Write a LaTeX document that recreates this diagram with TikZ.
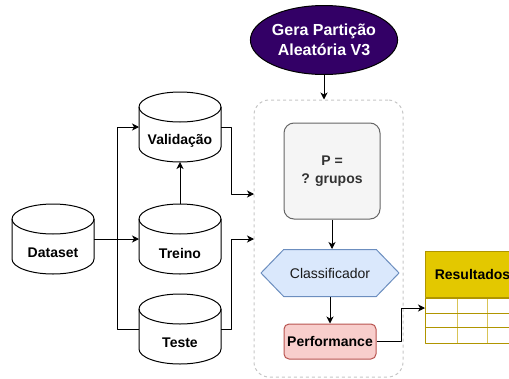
\documentclass[tikz,border=0pt]{standalone}
\usepackage{fontspec}
\setmainfont{Liberation Sans}
\usepackage{xcolor}
\usetikzlibrary{arrows.meta, positioning, calc, shapes.geometric, shapes.symbols}

\definecolor{lila}{HTML}{330066}
\definecolor{grauf5}{HTML}{F5F5F5}
\definecolor{grau66}{HTML}{666666}
\definecolor{grau33}{HTML}{333333}
\definecolor{blau}{HTML}{DAE8FC}
\definecolor{blaurand}{HTML}{6C8EBF}
\definecolor{rot}{HTML}{F8CECC}
\definecolor{rotrand}{HTML}{B85450}
\definecolor{gelb}{HTML}{E3C800}
\definecolor{gelbrand}{HTML}{B09500}
\definecolor{gelbhell}{HTML}{D9C456}

\begin{document}
\begin{tikzpicture}[x=1pt, y=1pt, line join=round,
    pfeil/.style={-{Stealth[length=7pt, width=7pt, inset=2pt]}, line width=1pt},
    linie/.style={line width=1pt},
    txt/.style={font=\fontsize{14pt}{18pt}\selectfont\bfseries, inner sep=0pt},
    zyl/.style={minimum width=82pt, minimum height=70pt, inner sep=0pt, outer sep=0pt},
    rahmen/.style={draw=gray!45, dash pattern=on 3pt off 3pt, rounded corners=15pt,
      minimum width=149pt, minimum height=277pt, line width=1pt}]
    \useasboundingbox (0,0) rectangle (509,-378);
    % Rahmen
    \node[rahmen] (box) at (328.5,-238.5) {};
    % Zylinder
    \foreach \n/\x/\y/\t in {dataset/53/239/Dataset, val/180/127/Validação,
                             treino/180/239/Treino, teste/180/329/Teste}{
      \node[zyl] (\n) at (\x,-\y) {};
      \filldraw[fill=white, line width=1pt] ([yshift=-15pt]\n.north west)
        -- ([yshift=15pt]\n.south west)
        arc[start angle=180, end angle=360, x radius=41pt, y radius=15pt]
        -- ([yshift=-15pt]\n.north east)
        arc[start angle=0, end angle=180, x radius=41pt, y radius=15pt] -- cycle;
      \draw[line width=1pt] ([yshift=-15pt]\n.north west)
        arc[start angle=180, end angle=360, x radius=41pt, y radius=15pt];
      \node[txt] (\n-t) at ([yshift=-14pt]\n.center) {\t};
    }
    % Ablauf
    \node[ellipse, fill=lila, draw=black, line width=1pt, minimum width=138pt,
      minimum height=69pt, inner sep=0pt, text=white, align=center,
      font=\fontsize{16pt}{20pt}\selectfont\bfseries] (gera) at (324,-40)
      {Gera Partição\\Aleatória V3};
    \node[txt, draw=grau66, fill=grauf5, line width=1pt, rounded corners=10pt,
      minimum width=96pt, minimum height=96pt, text=grau33, align=center]
      (pbox) at (332,-171) {P =\\? grupos};
    \node[signal, signal to=west and east, signal pointer angle=92, fill=blau,
      draw=blaurand, line width=1pt, minimum width=138pt, minimum height=47pt,
      font=\fontsize{14pt}{17pt}\selectfont, text=black!90] (klass) at (330,-273)
      {Classificador};
    \node[txt, fill=rot, draw=rotrand, line width=1pt, rounded corners=5pt,
      minimum width=92pt, minimum height=35pt] (perf) at (330,-341.5) {Performance};
    % Tabelle
    \node[txt, fill=gelb, draw=gelbrand, line width=1pt, minimum width=94pt,
      minimum height=46pt, anchor=north west] (res) at (425,-251) {Resultados};
    \foreach \c in {32,62}
      \draw[gelbhell, line width=1pt] (res.south west) ++(\c,0) -- ++(0,-45);
    \foreach \r in {15,29}
      \draw[gelbrand, line width=1pt] (res.south west) ++(0,-\r) -- ++(94,0);
    \draw[gelbrand, line width=1pt] (res.south west) rectangle ++(94,-45);
    % Pfeile
    \coordinate (inA) at (254,-194);
    \coordinate (inB) at (254,-239);
    \coordinate (tab) at ([yshift=-10pt]res.south west);
    \draw[pfeil] (dataset.east) -- (treino.west);
    \draw[pfeil] (dataset.east) -- ++(23,0) |- (val.west);
    \draw[linie] (dataset.east) -- ++(23,0) |- (teste.west);
    \draw[pfeil] (treino.north) -- (val.south);
    \draw[pfeil] (val.east) -| ([xshift=-23pt]inA) -- (inA);
    \draw[pfeil] (teste.east) -| ([xshift=-23pt]inB) -- (inB);
    \draw[pfeil] (gera.south) -- (gera.south |- box.north);
    \draw[pfeil] (pbox.south) -- (pbox.south |- klass.north);
    \draw[pfeil] (klass.south) -- (perf.north);
    \draw[pfeil] (perf.east) -| ([xshift=-24pt]tab) -- (tab);
  \end{tikzpicture}
\end{document}
